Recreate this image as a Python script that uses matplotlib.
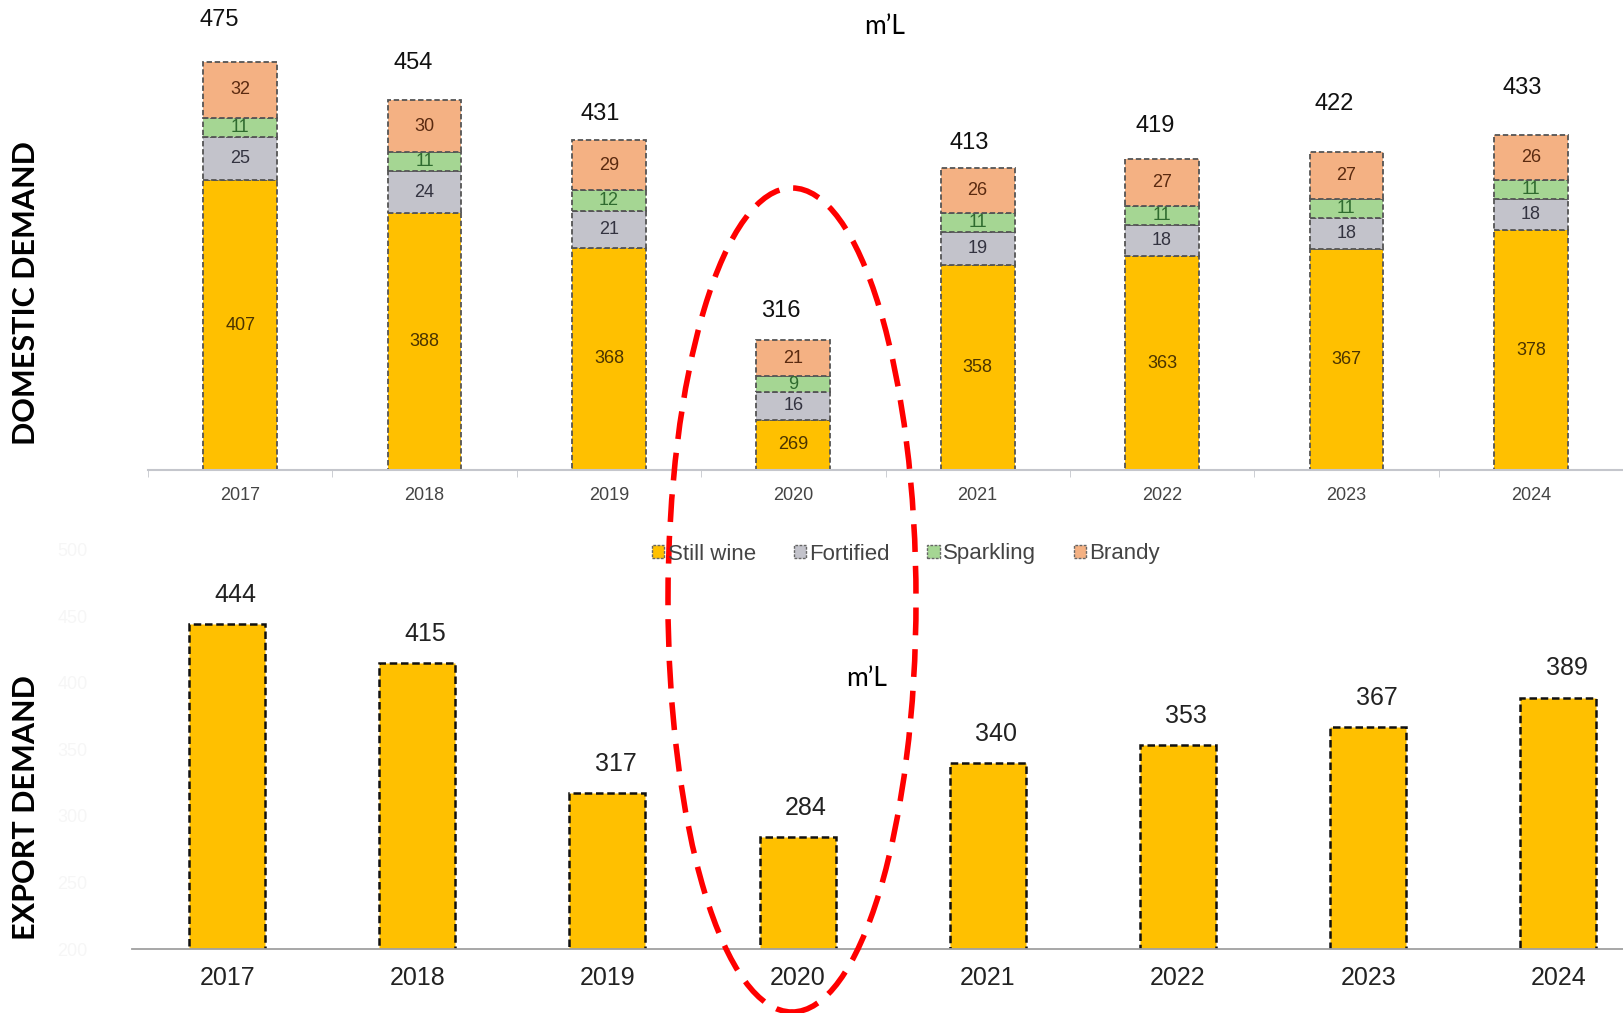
"""Domestic vs export demand, South African wine (m'L) with highlighted 2020 dip."""

import numpy as np
import matplotlib.pyplot as plt
from matplotlib.patches import Ellipse, Patch

years = ["2017", "2018", "2019", "2020", "2021", "2022", "2023", "2024"]

# domestic demand split by category (m'L)
still_wine = [407, 388, 368, 269, 358, 363, 367, 378]
fortified = [25, 24, 21, 16, 19, 18, 18, 18]
sparkling = [11, 11, 12, 9, 11, 11, 11, 11]
brandy = [32, 30, 29, 21, 26, 27, 27, 26]
domestic_total = [475, 454, 431, 316, 413, 419, 422, 433]

# export demand (m'L)
export = [444, 415, 317, 284, 340, 353, 367, 389]
export_ticks = [200, 250, 300, 350, 400, 450, 500]

# label offsets above the domestic bars (points), hand placed in the original
total_dx = [-15, -8, -6, -9, -6, -5, -9, -6]
total_dy = [30, 27, 19, 21, 18, 24, 35, 34]

plt.rcParams["font.family"] = ["Liberation Sans", "DejaVu Sans"]

W, H = 1623, 1013
fig = plt.figure(figsize=(W / 100, H / 100), dpi=100)

seg_colors = ["#FFC000", "#C3C3CB", "#A5D693", "#F4B183"]
seg_text = ["#4a3300", "#333340", "#2f6b2f", "#5a2a10"]
seg_names = ["Still wine", "Fortified", "Sparkling", "Brandy"]

# ---- domestic (top) ----
ax1 = fig.add_axes([148 / W, (H - 470) / H, 1 - 148 / W, 470 / H])
x = np.arange(len(years))
base = 240  # value axis does not start at zero in the original
bottom = np.full(len(years), float(base))
for i, (vals, col, tcol) in enumerate(zip([still_wine, fortified, sparkling, brandy],
                                          seg_colors, seg_text)):
    vals = np.array(vals, dtype=float)
    heights = vals - base if i == 0 else vals
    ax1.bar(x, heights, width=0.40, bottom=bottom, color=col, edgecolor="#555555",
            linewidth=1.3, linestyle=(0, (3, 1.5)))
    for xi, b, h, v in zip(x, bottom, heights, vals):
        ax1.text(xi, b + h / 2, str(int(v)), ha="center", va="center", fontsize=13,
                 color=tcol)
    bottom += heights

for xi, top, t, dx, dy in zip(x, bottom, domestic_total, total_dx, total_dy):
    ax1.annotate(str(t), (xi, top), xytext=(dx, dy), textcoords="offset points",
                 ha="center", va="center", fontsize=17, color="#111111")

ax1.set_xlim(-0.5, 7.38)
ax1.set_ylim(base, 510.7)
ax1.set_yticks([])
for s in ["top", "right", "left"]:
    ax1.spines[s].set_visible(False)
ax1.spines["bottom"].set_color("#c4c6cc")
ax1.spines["bottom"].set_linewidth(1.5)
ax1.set_xticks(x)
ax1.set_xticklabels(years, fontsize=13, color="#444444")
ax1.tick_params(axis="x", length=0, pad=12)
ax1.set_xticks(np.arange(-0.5, 8, 1), minor=True)
ax1.tick_params(axis="x", which="minor", length=5, color="#c4c6cc")

# ---- export (bottom) ----
ax2 = fig.add_axes([132 / W, (H - 949) / H, 1 - 132 / W, (949 - 530) / H])
ax2.bar(x, export, width=0.40, bottom=0, color="#FFC000", edgecolor="#111111",
        linewidth=1.8, linestyle=(0, (3, 1.5)))
for xi, v in zip(x, export):
    ax2.annotate(str(v), (xi, v), xytext=(6, 21), textcoords="offset points",
                 ha="center", va="center", fontsize=18, color="#222222")
ax2.set_xlim(-0.5, 7.34)
ax2.set_ylim(200, 515)
ax2.set_yticks(export_ticks)
ax2.set_yticklabels([str(t) for t in export_ticks], fontsize=13, color="#f6f6f6")
ax2.tick_params(axis="y", length=0, pad=32)
for s in ["top", "right", "left"]:
    ax2.spines[s].set_visible(False)
ax2.spines["bottom"].set_color("#a0a0a0")
ax2.spines["bottom"].set_linewidth(1.3)
ax2.set_xticks(x)
ax2.set_xticklabels(years, fontsize=18, color="#222222")
ax2.tick_params(axis="x", length=0, pad=12)

# ---- legend, units, side labels ----
handles = [Patch(facecolor=c, edgecolor="#666666", linestyle=(0, (2, 1)), linewidth=1)
           for c in seg_colors]
fig.legend(handles, seg_names, loc="center", bbox_to_anchor=(906 / W, 1 - 554 / H),
           ncol=4, frameon=False, fontsize=16, handlelength=0.55, handleheight=0.55,
           handletextpad=0.15, columnspacing=1.7, labelcolor="#444444")

fig.text(885 / W, 1 - 26 / H, "m\u2019L", ha="center", va="center", fontsize=19,
         family=["Lato", "DejaVu Sans"])
fig.text(867 / W, 1 - 678 / H, "m\u2019L", ha="center", va="center", fontsize=19,
         family=["Lato", "DejaVu Sans"])

fig.text(26 / W, 1 - 293 / H, "DOMESTIC DEMAND", rotation=90, ha="center", va="center",
         fontsize=22, fontweight="bold", family=["Lato", "DejaVu Sans"])
fig.text(26 / W, 1 - 808 / H, "EXPORT DEMAND", rotation=90, ha="center", va="center",
         fontsize=22, fontweight="bold", family=["Lato", "DejaVu Sans"])

ell = Ellipse((792 / W, 1 - 600 / H), 248 / W, 824 / H, transform=fig.transFigure,
              fill=False, edgecolor="#ff0000", linewidth=4, linestyle=(0, (5, 2.5)))
fig.add_artist(ell)

fig.savefig("out.png", dpi=100)
